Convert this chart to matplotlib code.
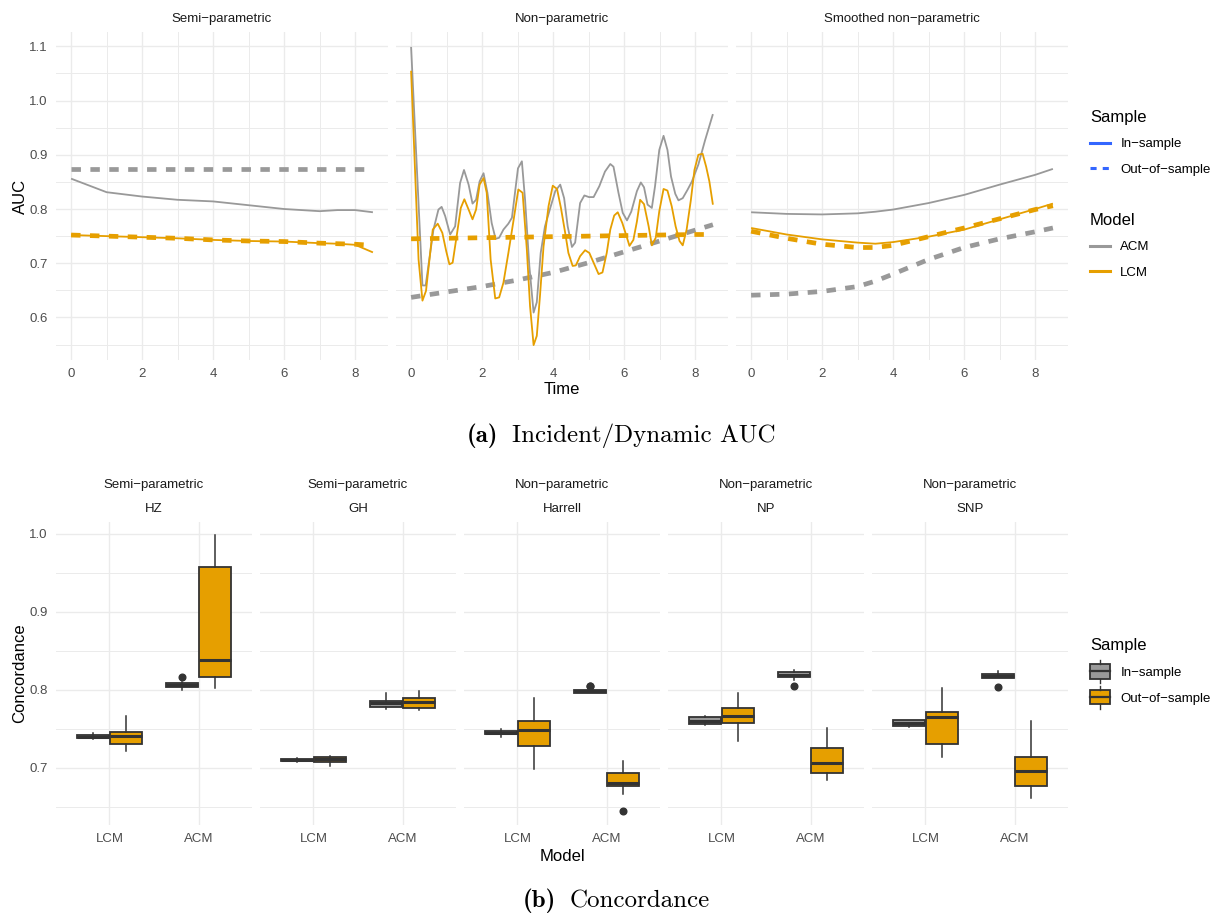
"""Incident/dynamic AUC curves and concordance boxplots, two-part figure."""

import os

import matplotlib

matplotlib.use("Agg")
import matplotlib.pyplot as plt
from matplotlib import font_manager
from matplotlib.legend_handler import HandlerBase
from matplotlib.lines import Line2D
from matplotlib.offsetbox import AnchoredOffsetbox, HPacker, TextArea
from matplotlib.patches import Patch, Rectangle
from matplotlib.ticker import MultipleLocator

plt.rcParams["font.family"] = ["Liberation Sans", "DejaVu Sans"]

W, H = 1211, 913
M = "\u2212"
GREY = "#999999"
ORANGE = "#E69F00"
BLUE = "#3366FF"
GRID = "#EBEBEB"
DARK = "#333333"
TICK = "#4D4D4D"

TTF = os.path.join(matplotlib.get_data_path(), "fonts", "ttf")
CAP_SIZE = 18
CM_REG = font_manager.FontProperties(fname=os.path.join(TTF, "cmr10.ttf"), size=CAP_SIZE)
CM_BOLD = font_manager.FontProperties(fname=os.path.join(TTF, "cmb10.ttf"), size=CAP_SIZE)

# ---- (a) AUC over time -------------------------------------------------
auc_panels = ["Semi" + M + "parametric", "Non" + M + "parametric", "Smoothed non" + M + "parametric"]

sp_time = [0, 1, 2, 3, 4, 5, 6, 7, 7.5, 8, 8.5]
sp_acm_in = [0.856, 0.831, 0.823, 0.817, 0.814, 0.807, 0.800, 0.796, 0.798, 0.798, 0.794]
sp_acm_out = [0.874, 0.874, 0.874, 0.874, 0.874, 0.874, 0.874, 0.874, 0.874, 0.874, 0.874]
sp_lcm_in = [0.752, 0.750, 0.748, 0.746, 0.743, 0.741, 0.740, 0.737, 0.736, 0.734, 0.720]
sp_lcm_out = [0.752, 0.750, 0.748, 0.746, 0.743, 0.741, 0.740, 0.737, 0.736, 0.735, 0.733]

np_acm_time = [0, 0.32, 0.41, 0.63, 0.77, 0.86, 0.96, 1.10, 1.24, 1.38, 1.49, 1.62, 1.73, 1.83,
               1.93, 2.04, 2.15, 2.27, 2.38, 2.48, 2.60, 2.74, 2.84, 3.01, 3.12, 3.21, 3.33,
               3.45, 3.54, 3.65, 3.77, 3.92, 4.06, 4.20, 4.31, 4.41, 4.53, 4.62, 4.76, 4.88,
               5.01, 5.14, 5.30, 5.46, 5.61, 5.70, 5.84, 5.96, 6.08, 6.20, 6.36, 6.47, 6.56,
               6.66, 6.78, 6.87, 6.99, 7.11, 7.22, 7.32, 7.44, 7.53, 7.65, 7.79, 7.91, 8.09,
               8.28, 8.5]
np_acm_in = [1.099, 0.659, 0.659, 0.762, 0.799, 0.804, 0.787, 0.753, 0.768, 0.848, 0.872, 0.845,
             0.810, 0.817, 0.851, 0.866, 0.830, 0.774, 0.745, 0.747, 0.762, 0.773, 0.784, 0.875,
             0.888, 0.817, 0.695, 0.609, 0.628, 0.719, 0.768, 0.802, 0.833, 0.845, 0.820, 0.768,
             0.730, 0.738, 0.811, 0.825, 0.822, 0.822, 0.842, 0.869, 0.883, 0.878, 0.830, 0.793,
             0.779, 0.795, 0.833, 0.849, 0.840, 0.808, 0.802, 0.842, 0.909, 0.935, 0.909, 0.860,
             0.828, 0.816, 0.820, 0.836, 0.851, 0.882, 0.927, 0.975]
np_lcm_time = [0, 0.21, 0.32, 0.42, 0.61, 0.75, 0.88, 0.99, 1.08, 1.17, 1.29, 1.40, 1.50, 1.62,
               1.73, 1.83, 1.93, 2.04, 2.13, 2.24, 2.37, 2.48, 2.60, 2.74, 2.88, 3.02, 3.14,
               3.26, 3.35, 3.45, 3.54, 3.63, 3.73, 3.87, 3.99, 4.11, 4.22, 4.34, 4.43, 4.55,
               4.64, 4.76, 4.90, 5.02, 5.14, 5.28, 5.39, 5.51, 5.61, 5.72, 5.82, 5.95, 6.08,
               6.15, 6.26, 6.36, 6.45, 6.56, 6.69, 6.78, 6.89, 6.99, 7.11, 7.22, 7.34, 7.45,
               7.56, 7.65, 7.76, 7.88, 7.98, 8.09, 8.21, 8.31, 8.40, 8.5]
np_lcm_in = [1.055, 0.707, 0.631, 0.649, 0.762, 0.773, 0.756, 0.722, 0.698, 0.701, 0.753, 0.802,
             0.818, 0.799, 0.781, 0.799, 0.845, 0.857, 0.830, 0.707, 0.635, 0.637, 0.664, 0.719,
             0.777, 0.836, 0.830, 0.725, 0.621, 0.549, 0.566, 0.640, 0.731, 0.805, 0.843, 0.837,
             0.802, 0.756, 0.719, 0.695, 0.696, 0.713, 0.724, 0.719, 0.701, 0.680, 0.683, 0.719,
             0.762, 0.788, 0.794, 0.774, 0.747, 0.732, 0.743, 0.777, 0.817, 0.809, 0.768, 0.733,
             0.747, 0.796, 0.837, 0.834, 0.805, 0.768, 0.741, 0.733, 0.762, 0.817, 0.872, 0.900,
             0.902, 0.878, 0.851, 0.808]
np_out_time = [0, 1, 2, 3, 4, 5, 6, 7, 8, 8.5]
np_acm_out = [0.637, 0.647, 0.657, 0.669, 0.683, 0.701, 0.721, 0.741, 0.761, 0.771]
np_lcm_out = [0.745, 0.746, 0.747, 0.748, 0.749, 0.750, 0.751, 0.752, 0.753, 0.753]

snp_time = [0, 1, 2, 3, 3.5, 4, 5, 6, 7, 8, 8.5]
snp_acm_in = [0.794, 0.791, 0.790, 0.792, 0.795, 0.799, 0.811, 0.826, 0.845, 0.863, 0.874]
snp_acm_out = [0.641, 0.643, 0.648, 0.657, 0.667, 0.680, 0.707, 0.729, 0.745, 0.758, 0.765]
snp_lcm_in = [0.765, 0.753, 0.744, 0.738, 0.736, 0.739, 0.749, 0.762, 0.781, 0.800, 0.810]
snp_lcm_out = [0.759, 0.746, 0.735, 0.729, 0.729, 0.733, 0.749, 0.765, 0.782, 0.799, 0.806]

auc_series = [
    [(sp_time, sp_acm_in, sp_time, sp_acm_out), (sp_time, sp_lcm_in, sp_time, sp_lcm_out)],
    [(np_acm_time, np_acm_in, np_out_time, np_acm_out), (np_lcm_time, np_lcm_in, np_out_time, np_lcm_out)],
    [(snp_time, snp_acm_in, snp_time, snp_acm_out), (snp_time, snp_lcm_in, snp_time, snp_lcm_out)],
]

# ---- (b) concordance boxplots ------------------------------------------
conc_methods = ["HZ", "GH", "Harrell", "NP", "SNP"]
conc_families = ["Semi" + M + "parametric"] * 2 + ["Non" + M + "parametric"] * 3
conc_models = ["LCM", "ACM"]

# per method: [LCM, ACM]
in_q1 = [[0.738, 0.8035], [0.7085, 0.778], [0.743, 0.796], [0.7557, 0.816], [0.7535, 0.815]]
in_med = [[0.740, 0.806], [0.710, 0.783], [0.745, 0.798], [0.760, 0.8195], [0.7577, 0.818]]
in_q3 = [[0.7425, 0.8085], [0.7115, 0.786], [0.7475, 0.800], [0.765, 0.823], [0.762, 0.821]]
in_lo = [[0.737, 0.800], [0.707, 0.775], [0.740, 0.796], [0.7555, 0.8126], [0.752, 0.815]]
in_hi = [[0.745, 0.810], [0.713, 0.796], [0.750, 0.800], [0.7667, 0.825], [0.762, 0.824]]
in_fl = [[[], [0.8165]], [[], []], [[], [0.8045, 0.805]], [[], [0.805]], [[], [0.804]]]

out_q1 = [[0.731, 0.817], [0.707, 0.7765], [0.7284, 0.677], [0.758, 0.694], [0.7305, 0.677]]
out_med = [[0.741, 0.8386], [0.7114, 0.785], [0.749, 0.681], [0.767, 0.706], [0.7646, 0.6955]]
out_q3 = [[0.7462, 0.958], [0.714, 0.790], [0.7607, 0.694], [0.777, 0.726], [0.771, 0.714]]
out_lo = [[0.722, 0.803], [0.702, 0.7747], [0.698, 0.667], [0.735, 0.685], [0.7134, 0.6616]]
out_hi = [[0.766, 0.998], [0.715, 0.798], [0.7897, 0.709], [0.796, 0.7513], [0.8025, 0.760]]
out_fl = [[[], []], [[], []], [[], [0.6444]], [[], []], [[], []]]


def px_axes(fig, x0, y0, x1, y1):
    return fig.add_axes([x0 / W, 1 - y1 / H, (x1 - x0) / W, (y1 - y0) / H])


def style(ax, show_y):
    for s in ax.spines.values():
        s.set_visible(False)
    ax.set_facecolor("white")
    ax.tick_params(which="both", length=0, labelsize=9.5, labelcolor=TICK, pad=6)
    ax.grid(which="major", color=GRID, lw=1.0)
    ax.grid(which="minor", color=GRID, lw=0.7)
    ax.set_axisbelow(True)
    if not show_y:
        ax.tick_params(axis="y", labelleft=False)


def expand(lo, hi, frac=0.05):
    r = hi - lo
    return lo - frac * r, hi + frac * r


def caption(fig, tag, text, x, y):
    pack = HPacker(children=[TextArea(tag, textprops=dict(fontproperties=CM_BOLD)),
                             TextArea(text, textprops=dict(fontproperties=CM_REG))],
                   sep=10, pad=0, align="baseline")
    box = AnchoredOffsetbox(loc="center", child=pack, pad=0, borderpad=0, frameon=False,
                            bbox_to_anchor=(x / W, 1 - y / H), bbox_transform=fig.transFigure)
    fig.add_artist(box)


class BoxKey(HandlerBase):
    def create_artists(self, legend, orig_handle, xdescent, ydescent, width, height, fontsize, trans):
        x0, y0 = -xdescent, -ydescent
        fc = orig_handle.get_facecolor()
        box = Rectangle((x0, y0), width, height, facecolor=fc, edgecolor=DARK, lw=1.3, transform=trans)
        mid = y0 + height / 2
        med = Line2D([x0, x0 + width], [mid, mid], color=DARK, lw=1.6, transform=trans)
        wl = Line2D([x0 + width / 2] * 2, [y0 - 3, y0], color=DARK, lw=1.0, transform=trans)
        wh = Line2D([x0 + width / 2] * 2, [y0 + height, y0 + height + 3], color=DARK, lw=1.0, transform=trans)
        return [box, med, wl, wh]


fig = plt.figure(figsize=(W / 100, H / 100), dpi=100)

# top row
all_auc = []
for pair in auc_series:
    for t_in, v_in, t_out, v_out in pair:
        all_auc += list(v_in) + list(v_out)
auc_lim = expand(min(all_auc), max(all_auc))
x_lim = expand(0, 8.5)

top_x = [(56, 388), (396, 728), (736, 1068)]
for i, (x0, x1) in enumerate(top_x):
    ax = px_axes(fig, x0, 32, x1, 360)
    style(ax, i == 0)
    ax.xaxis.set_major_locator(MultipleLocator(2))
    ax.xaxis.set_minor_locator(MultipleLocator(1))
    ax.yaxis.set_major_locator(MultipleLocator(0.1))
    ax.yaxis.set_minor_locator(MultipleLocator(0.05))
    ax.set_xlim(*x_lim)
    ax.set_ylim(*auc_lim)
    for (t_in, v_in, t_out, v_out), col in zip(auc_series[i], [GREY, ORANGE]):
        ax.plot(t_in, v_in, color=col, lw=1.3, solid_capstyle="butt")
        ax.plot(t_out, v_out, color=col, lw=3.4, dashes=(2.0, 2.0), dash_capstyle="butt")
    fig.text((x0 + x1) / 2 / W, 1 - 19 / H, auc_panels[i], ha="center", va="center",
             fontsize=9.5, color="#1A1A1A")

fig.text(562 / W, 1 - 390 / H, "Time", ha="center", va="center", fontsize=12)
fig.text(20 / W, 1 - 196 / H, "AUC", ha="center", va="center", rotation=90, fontsize=12)

sample_handles = [Line2D([], [], color=BLUE, lw=2.2),
                  Line2D([], [], color=BLUE, lw=2.2, dashes=(2.0, 2.0))]
leg_kw = dict(loc="upper left", frameon=False, alignment="left", fontsize=9.5, title_fontsize=12,
              handlelength=1.55, handletextpad=0.75, labelspacing=1.0, borderpad=0, borderaxespad=0)
fig.legend(sample_handles, ["In" + M + "sample", "Out" + M + "of" + M + "sample"], title="Sample",
           bbox_to_anchor=(1090 / W, 1 - 110 / H), **leg_kw)
model_handles = [Line2D([], [], color=GREY, lw=2.2), Line2D([], [], color=ORANGE, lw=2.2)]
fig.legend(model_handles, ["ACM", "LCM"], title="Model",
           bbox_to_anchor=(1090 / W, 1 - 213 / H), **leg_kw)

caption(fig, "(a)", "Incident/Dynamic AUC", 621, 436)

# bottom row
all_conc = []
for grp in (in_lo, in_hi, out_lo, out_hi):
    for row in grp:
        all_conc += row
for grp in (in_fl, out_fl):
    for row in grp:
        for f in row:
            all_conc += f
conc_lim = expand(min(all_conc), max(all_conc))
cat_lim = (0.4, 2.6)
dodge = 0.1875

for i, method in enumerate(conc_methods):
    x0 = 56 + i * 204
    ax = px_axes(fig, x0, 521.7, x0 + 196, 825)
    style(ax, i == 0)
    ax.yaxis.set_major_locator(MultipleLocator(0.1))
    ax.yaxis.set_minor_locator(MultipleLocator(0.05))
    ax.set_xlim(*cat_lim)
    ax.set_ylim(*conc_lim)
    ax.set_xticks([1, 2], conc_models)
    for off, fc, q1, med, q3, lo, hi, fl in [
        (-dodge, GREY, in_q1, in_med, in_q3, in_lo, in_hi, in_fl),
        (dodge, ORANGE, out_q1, out_med, out_q3, out_lo, out_hi, out_fl),
    ]:
        stats = [dict(q1=q1[i][k], med=med[i][k], q3=q3[i][k], whislo=lo[i][k],
                      whishi=hi[i][k], fliers=fl[i][k]) for k in range(2)]
        ax.bxp(stats, positions=[1 + off, 2 + off], widths=0.36, patch_artist=True,
               showcaps=False, manage_ticks=False,
               boxprops=dict(facecolor=fc, edgecolor=DARK, lw=1.3),
               medianprops=dict(color=DARK, lw=2.2, solid_capstyle="butt"),
               whiskerprops=dict(color=DARK, lw=1.1),
               flierprops=dict(marker="o", markersize=4.8, markerfacecolor=DARK,
                               markeredgecolor=DARK))
    cx = (x0 + 98) / W
    fig.text(cx, 1 - 485 / H, conc_families[i], ha="center", va="center", fontsize=9.5, color="#1A1A1A")
    fig.text(cx, 1 - 509 / H, method, ha="center", va="center", fontsize=9.5, color="#1A1A1A")

fig.text(562 / W, 1 - 856 / H, "Model", ha="center", va="center", fontsize=12)
fig.text(20 / W, 1 - 673 / H, "Concordance", ha="center", va="center", rotation=90, fontsize=12)

box_handles = [Patch(facecolor=GREY), Patch(facecolor=ORANGE)]
fig.legend(box_handles, ["In" + M + "sample", "Out" + M + "of" + M + "sample"], title="Sample",
           bbox_to_anchor=(1090 / W, 1 - 638 / H), handler_map={Patch: BoxKey()},
           handleheight=1.3, **dict(leg_kw, labelspacing=0.85))

caption(fig, "(b)", "Concordance", 616, 901)

fig.savefig("out.png", dpi=100, facecolor="white")
